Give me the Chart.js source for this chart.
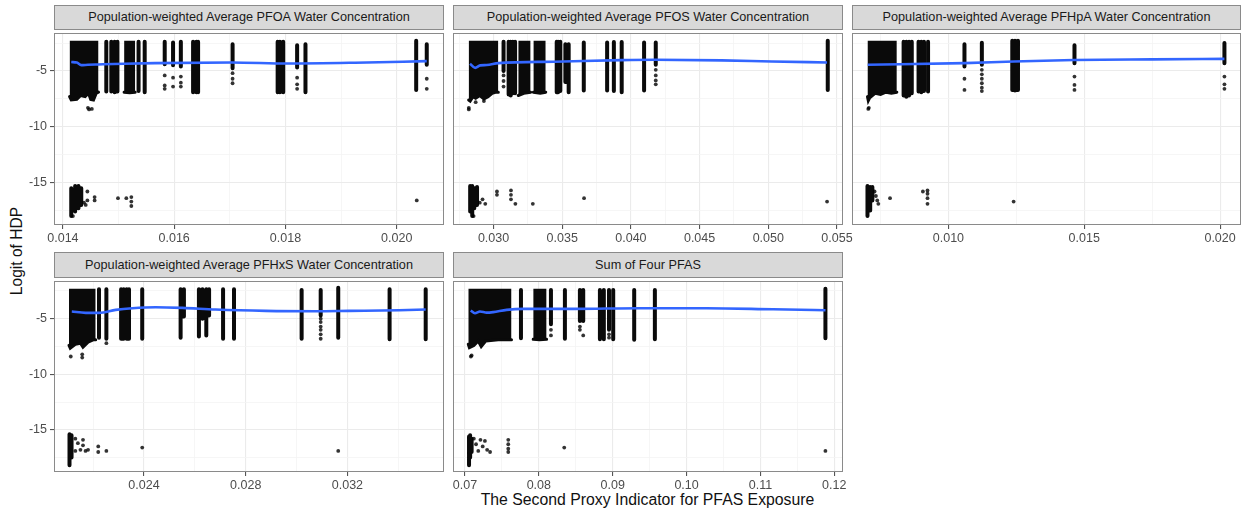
<!DOCTYPE html>
<html><head><meta charset="utf-8">
<script src="https://cdn.jsdelivr.net/npm/chart.js@4.4.1/dist/chart.umd.min.js"></script>
<style>
body{margin:0;background:#fff;width:1245px;height:514px;position:relative;overflow:hidden;font-family:'Liberation Sans',Arial,Helvetica,sans-serif;}
.strip{position:absolute;background:#D9D9D9;border:1px solid #8a8a8a;box-sizing:border-box;font-size:12.7px;color:#1a1a1a;text-align:center;line-height:22px;}
canvas{position:absolute;}
.xtitle{position:absolute;left:54px;width:1187px;top:491px;text-align:center;font-size:15.8px;color:#111;}
.ytitle{position:absolute;left:17px;top:251px;transform:translate(-50%,-50%) rotate(-90deg);font-size:15.6px;color:#111;white-space:nowrap;}
</style></head><body>
<div class="xtitle">The Second Proxy Indicator for PFAS Exposure</div>
<div class="ytitle">Logit of HDP</div>
<script>
// ---------- shared y axis ----------
const yRange = [-18.8, -1.6];
const yMajorTicks = [-15, -10, -5];
const yMinorTicks = [-17.5, -12.5, -7.5, -2.5];
const yTickLabels = ['-15', '-10', '-5'];
const blockTop = -2.3;

const panelTitles = [
  'Population-weighted Average PFOA Water Concentration',
  'Population-weighted Average PFOS Water Concentration',
  'Population-weighted Average PFHpA Water Concentration',
  'Population-weighted Average PFHxS Water Concentration',
  'Sum of Four PFAS'
];

// ---------- PFOA ----------
const pfoaRange = [0.01384, 0.02085];
const pfoaMajorTicks = [0.014, 0.016, 0.018, 0.020];
const pfoaMinorTicks = [0.015, 0.017, 0.019];
const pfoaTickLabels = ['0.014', '0.016', '0.018', '0.020'];
const pfoaBlocks = [
  [[0.01412,-7.3],[0.01415,-7.6],[0.01425,-7.55],[0.01432,-7.2],[0.0144,-7.3],[0.01446,-7.0],[0.0145,-7.55],[0.01455,-7.6],[0.0146,-7.0],[0.01464,-6.9]],
  [[0.0151,-6.9],[0.0152,-6.95],[0.0153,-6.9]]
];
const pfoaStripes = [
  [0.01478,-2.38,-6.85],[0.01487,-2.38,-6.85],[0.01493,-2.38,-6.9],[0.01498,-2.38,-6.85],
  [0.01536,-2.38,-6.8],[0.01547,-2.38,-6.9],[0.01583,-2.38,-4.4],[0.01598,-2.45,-4.5],
  [0.01612,-2.38,-4.6],[0.01634,-2.38,-6.9],[0.0164,-2.38,-6.9],[0.01643,-2.38,-6.9],
  [0.01705,-2.6,-4.75],[0.01786,-2.38,-6.9],[0.0179,-2.38,-6.9],[0.01796,-2.38,-6.9],
  [0.01821,-2.7,-4.7],[0.01836,-2.6,-6.9],[0.02035,-2.3,-6.7],[0.02054,-2.6,-4.45],
  [0.01415,-15.5,-18.0],[0.01422,-15.3,-17.6],[0.01428,-15.3,-17.3],[0.01433,-15.5,-17.0]
];
const pfoaDots = [
  [0.01583,-5.4],[0.01583,-6.3],[0.01583,-6.6],[0.01598,-5.6],[0.01598,-6.4],[0.01612,-5.5],
  [0.01612,-6.05],[0.01612,-6.4],[0.01705,-5.2],[0.01705,-5.7],[0.01705,-6.1],[0.01821,-5.6],
  [0.01821,-6.2],[0.01821,-6.6],[0.02054,-5.7],[0.02054,-6.6],[0.01445,-8.3],[0.01447,-8.45],
  [0.01452,-8.4],[0.01444,-15.8],[0.01444,-16.6],[0.01457,-16.3],[0.01457,-16.6],[0.01499,-16.4],
  [0.01514,-16.4],[0.01523,-16.3],[0.01523,-16.7],[0.01523,-17.1],[0.02036,-16.6],[0.01438,-16.8],
  [0.01441,-17.0],[0.01418,-18.0]
];
const pfoaSmooth = [[0.01415,-4.2],[0.01425,-4.25],[0.01433,-4.48],[0.01445,-4.45],[0.01463,-4.42],[0.0151,-4.35],[0.01565,-4.3],[0.01703,-4.24],[0.01805,-4.33],[0.01925,-4.26],[0.02054,-4.12]];

// ---------- PFOS ----------
const pfosRange = [0.02705, 0.05544];
const pfosMajorTicks = [0.030, 0.035, 0.040, 0.045, 0.050, 0.055];
const pfosMinorTicks = [0.0275, 0.0325, 0.0375, 0.0425, 0.0475, 0.0525];
const pfosTickLabels = ['0.030', '0.035', '0.040', '0.045', '0.050', '0.055'];
const pfosBlocks = [
  [[0.02819,-7.6],[0.0283,-7.7],[0.0285,-7.3],[0.0287,-7.45],[0.029,-7.2],[0.0293,-7.5],[0.0296,-7.3],[0.0299,-7.0],[0.0302,-6.9],[0.03035,-6.9]],
  [[0.0318,-7.2],[0.0322,-7.0],[0.0327,-6.9]],
  [[0.0329,-6.9],[0.0334,-7.0],[0.0338,-6.9]]
];
const pfosStripes = [
  [0.03073,-2.38,-5.0],[0.0311,-2.38,-7.1],[0.03125,-2.38,-7.2],[0.0314,-2.38,-7.0],[0.03157,-2.38,-7.0],
  [0.0346,-2.38,-6.9],[0.0347,-2.38,-6.9],[0.03486,-2.38,-6.8],[0.03523,-2.6,-6.0],[0.03547,-2.6,-6.9],
  [0.03657,-2.45,-6.75],[0.03827,-2.45,-6.75],[0.03876,-2.4,-6.8],[0.03933,-2.4,-6.9],[0.04096,-2.45,-6.75],
  [0.04181,-2.45,-4.45],[0.05433,-2.3,-6.7],
  [0.0283,-15.3,-17.6],[0.02845,-15.3,-18.0],[0.0286,-15.5,-17.3],[0.0288,-15.4,-17.0]
];
const pfosDots = [
  [0.03073,-5.4],[0.03073,-5.9],[0.03073,-6.4],[0.04181,-4.9],[0.04181,-5.4],[0.04181,-5.85],[0.04181,-6.2],
  [0.0282,-8.3],[0.0282,-8.45],[0.0287,-7.8],[0.0293,-7.7],
  [0.029,-16.8],[0.0292,-16.5],[0.0294,-16.9],[0.03025,-15.8],[0.03025,-16.1],[0.03127,-15.7],[0.03127,-16.1],
  [0.03127,-16.5],[0.03159,-16.9],[0.03286,-16.9],[0.03659,-16.4],[0.05428,-16.7],[0.02855,-18.0]
];
const pfosSmooth = [[0.02829,-4.35],[0.02866,-4.72],[0.02903,-4.5],[0.0295,-4.47],[0.03037,-4.3],[0.03439,-4.17],[0.03928,-4.03],[0.04171,-4.0],[0.0466,-4.05],[0.05026,-4.15],[0.05428,-4.24]];

// ---------- PFHpA ----------
const pfhpaRange = [0.00645, 0.02077];
const pfhpaMajorTicks = [0.010, 0.015, 0.020];
const pfhpaMinorTicks = [0.0075, 0.0125, 0.0175];
const pfhpaTickLabels = ['0.010', '0.015', '0.020'];
const pfhpaBlocks = [
  [[0.00702,-7.3],[0.00705,-7.65],[0.0071,-7.4],[0.0073,-7.0],[0.0075,-7.1],[0.0077,-6.9],[0.0079,-7.0],[0.0081,-6.9]]
];
const pfhpaStripes = [
  [0.00835,-2.38,-7.2],[0.00845,-2.38,-7.3],[0.00855,-2.38,-7.2],[0.00865,-2.38,-7.0],
  [0.0089,-2.38,-6.85],[0.009,-2.38,-6.9],[0.0091,-2.38,-6.8],[0.00925,-2.38,-6.85],
  [0.01059,-2.6,-4.6],[0.01123,-2.47,-4.45],[0.01235,-2.3,-6.7],[0.01245,-2.3,-6.75],[0.01256,-2.3,-6.7],
  [0.01464,-2.7,-4.3],[0.02016,-2.5,-4.3],
  [0.00702,-15.3,-18.0],[0.00712,-15.4,-17.5],[0.0072,-15.4,-16.6]
];
const pfhpaDots = [
  [0.01059,-5.7],[0.01059,-6.7],[0.01123,-4.9],[0.01123,-5.3],[0.01123,-5.7],[0.01123,-6.1],[0.01123,-6.5],
  [0.01123,-6.8],[0.01464,-5.5],[0.01464,-6.25],[0.01464,-6.7],[0.02016,-5.5],[0.02016,-6.2],[0.02016,-6.6],
  [0.00705,-8.4],[0.00707,-8.3],
  [0.00728,-15.8],[0.00733,-16.2],[0.00738,-16.6],[0.00742,-16.9],[0.00785,-16.4],[0.00906,-15.8],
  [0.00923,-15.7],[0.00923,-16.0],[0.00923,-16.4],[0.00923,-16.9],[0.0124,-16.7]
];
const pfhpaSmooth = [[0.00703,-4.45],[0.01059,-4.3],[0.0124,-4.15],[0.01462,-4.02],[0.0175,-3.96],[0.02016,-3.92]];

// ---------- PFHxS ----------
const pfhxsRange = [0.02046, 0.0358];
const pfhxsMajorTicks = [0.024, 0.028, 0.032];
const pfhxsMinorTicks = [0.022, 0.026, 0.030, 0.034];
const pfhxsTickLabels = ['0.024', '0.028', '0.032'];
const pfhxsBlocks = [
  [[0.02105,-7.4],[0.0211,-7.65],[0.0213,-7.3],[0.0215,-7.2],[0.0216,-7.55],[0.0218,-7.1],[0.022,-6.9],[0.0221,-6.9]]
];
const pfhxsStripes = [
  [0.02223,-2.34,-6.7],[0.02252,-2.34,-6.8],[0.0231,-2.34,-6.8],[0.0232,-2.34,-6.8],[0.02332,-2.34,-6.8],
  [0.02341,-2.34,-6.8],[0.02393,-2.34,-6.8],[0.02544,-2.34,-6.7],[0.02557,-2.34,-4.8],[0.02616,-2.34,-6.6],
  [0.0263,-2.34,-5.0],[0.02645,-2.34,-6.5],[0.02656,-2.34,-4.7],[0.02711,-2.34,-6.8],[0.02754,-2.34,-6.8],
  [0.0302,-2.4,-6.8],[0.03095,-2.4,-4.7],[0.03164,-2.2,-6.7],[0.03366,-2.35,-6.85],[0.03508,-2.34,-6.85],
  [0.02107,-15.4,-18.2],[0.02115,-15.5,-17.5]
];
const pfhxsDots = [
  [0.03095,-5.0],[0.03095,-5.3],[0.03095,-5.7],[0.03095,-6.0],[0.03095,-6.4],[0.03095,-6.8],
  [0.02112,-8.4],[0.02157,-8.2],[0.02157,-8.5],[0.02252,-7.2],
  [0.0213,-15.8],[0.0214,-16.2],[0.0215,-16.8],[0.0216,-15.9],[0.0217,-16.9],[0.0218,-16.8],[0.0213,-16.9],
  [0.0216,-16.4],[0.0222,-16.5],[0.0222,-17.0],[0.02252,-16.9],[0.02393,-16.6],[0.03164,-16.9]
];
const pfhxsSmooth = [[0.02116,-4.35],[0.02171,-4.47],[0.02223,-4.47],[0.02289,-4.2],[0.02354,-4.05],[0.02446,-3.96],[0.02551,-4.02],[0.02682,-4.17],[0.02879,-4.29],[0.03075,-4.32],[0.03206,-4.29],[0.03403,-4.24],[0.03508,-4.17]];

// ---------- Sum of four ----------
const sumRange = [0.06838, 0.12118];
const sumMajorTicks = [0.07, 0.08, 0.09, 0.10, 0.11, 0.12];
const sumMinorTicks = [0.075, 0.085, 0.095, 0.105, 0.115];
const sumTickLabels = ['0.07', '0.08', '0.09', '0.10', '0.11', '0.12'];
const sumBlocks = [
  [[0.07045,-7.3],[0.0706,-7.6],[0.0712,-7.4],[0.0718,-7.0],[0.0722,-7.5],[0.0728,-7.0],[0.0735,-6.95],[0.0745,-6.9],[0.0755,-6.9],[0.0763,-6.9]],
  [[0.07924,-6.85],[0.0801,-6.9],[0.08105,-6.85]]
];
const sumStripes = [
  [0.07758,-2.4,-6.75],[0.08164,-2.4,-5.5],[0.08353,-2.4,-6.8],[0.08556,-2.4,-5.2],[0.08601,-2.4,-5.2],
  [0.08827,-2.4,-6.85],[0.0888,-2.4,-6.85],[0.0895,-2.4,-6.0],[0.09007,-2.4,-6.85],[0.09291,-2.4,-6.9],
  [0.09571,-2.4,-6.85],[0.1188,-2.3,-6.75],
  [0.07055,-15.6,-18.2],[0.0707,-15.5,-17.5],[0.0709,-15.8,-17.0]
];
const sumDots = [
  [0.08164,-6.0],[0.08164,-6.5],[0.08556,-5.7],[0.08556,-6.0],[0.08601,-6.5],[0.0895,-6.4],[0.0895,-6.7],
  [0.0708,-8.4],[0.0709,-8.3],
  [0.0712,-15.8],[0.0715,-16.3],[0.0718,-16.9],[0.0721,-15.9],[0.0724,-16.5],[0.0727,-16.0],[0.073,-16.8],
  [0.0734,-17.0],[0.07586,-15.9],[0.07586,-16.3],[0.07586,-16.7],[0.07586,-17.0],[0.08344,-16.6],[0.1188,-16.9]
];
const sumSmooth = [[0.07077,-4.26],[0.07135,-4.5],[0.07203,-4.35],[0.07294,-4.45],[0.07383,-4.4],[0.07564,-4.2],[0.07789,-4.11],[0.08466,-4.11],[0.09368,-4.05],[0.1027,-4.05],[0.11172,-4.15],[0.11881,-4.23]];

// ---------- rendering ----------
const FONT = "'Liberation Sans', Arial, Helvetica, sans-serif";
const INK = '#0a0a0a';
const DOT = 'rgba(0,0,0,0.8)';

const borderPlugin = {
  id: 'panelBorder',
  afterDraw(chart) {
    const a = chart.chartArea, c = chart.ctx;
    c.save();
    c.strokeStyle = '#8a8a8a';
    c.lineWidth = 1;
    c.strokeRect(a.left + 0.5, a.top + 0.5, a.right - a.left - 1, a.bottom - a.top - 1);
    c.restore();
  }
};

function makePanel(p) {
  const padL = 46, padR = 22, axisH = 24;
  const strip = document.createElement('div');
  strip.className = 'strip';
  strip.style.left = p.left + 'px';
  strip.style.top = p.stripTop + 'px';
  strip.style.width = p.width + 'px';
  strip.style.height = (p.top - p.stripTop + 1) + 'px';
  strip.style.lineHeight = (p.top - p.stripTop - 1) + 'px';
  strip.textContent = p.title;
  document.body.appendChild(strip);

  const cv = document.createElement('canvas');
  const W = padL + p.width + padR, H = p.height + axisH;
  cv.width = W; cv.height = H;
  cv.style.left = (p.left - padL) + 'px';
  cv.style.top = p.top + 'px';
  cv.style.width = W + 'px'; cv.style.height = H + 'px';
  document.body.appendChild(cv);

  const xAll = p.xMajor.concat(p.xMinor).sort((a, b) => a - b);
  const yAll = yMajorTicks.concat(yMinorTicks).sort((a, b) => a - b);
  const isMajor = (arr, v) => arr.some(m => Math.abs(m - v) < 1e-9);

  const stripeData = [];
  p.stripes.forEach(([x, t, b]) => {
    stripeData.push({x, y: t}, {x, y: b}, {x, y: null});
  });

  const datasets = [
    { data: p.smooth.map(([x, y]) => ({x, y})), showLine: true, borderColor: '#3366FF',
      borderWidth: 2.6, pointRadius: 0, cubicInterpolationMode: 'monotone', fill: false }
  ];
  datasets.push({ data: p.dots.map(([x, y]) => ({x, y})), showLine: false, pointRadius: 1.9,
    pointBackgroundColor: DOT, pointBorderWidth: 0 });
  datasets.push({ data: stripeData, showLine: true, spanGaps: false, borderColor: INK, borderWidth: 4,
    borderCapStyle: 'round', pointRadius: 0, fill: false });
  p.blocks.forEach(bl => {
    datasets.push({ data: bl.map(([x, y]) => ({x, y})), showLine: true, borderColor: INK, borderWidth: 3,
      borderCapStyle: 'round', backgroundColor: INK, pointRadius: 0, fill: {value: blockTop} });
  });

  new Chart(cv, {
    type: 'scatter',
    data: { datasets },
    plugins: [borderPlugin],
    options: {
      responsive: false, animation: false, devicePixelRatio: 1,
      layout: { padding: { left: 0, right: padR, top: 0, bottom: 0 } },
      plugins: { legend: { display: false }, tooltip: { enabled: false } },
      scales: {
        x: {
          type: 'linear', min: p.xRange[0], max: p.xRange[1],
          afterBuildTicks: ax => { ax.ticks = xAll.map(v => ({value: v})); },
          afterFit: ax => { ax.height = axisH; ax.paddingLeft = 0; ax.paddingRight = 0; },
          border: { display: false },
          grid: {
            color: c => isMajor(p.xMajor, c.tick.value) ? '#EBEBEB' : '#F4F4F4',
            lineWidth: c => isMajor(p.xMajor, c.tick.value) ? 1.1 : 0.8,
            tickColor: c => isMajor(p.xMajor, c.tick.value) ? '#555555' : 'rgba(0,0,0,0)',
            tickLength: 4, drawTicks: true
          },
          ticks: {
            autoSkip: false, maxRotation: 0, padding: 2, color: '#4D4D4D',
            font: { family: FONT, size: 12.5 },
            callback: v => { const i = p.xMajor.findIndex(m => Math.abs(m - v) < 1e-9); return i >= 0 ? p.xLabels[i] : ''; }
          }
        },
        y: {
          type: 'linear', min: yRange[0], max: yRange[1],
          afterBuildTicks: ax => { ax.ticks = yAll.map(v => ({value: v})); },
          afterFit: ax => { ax.width = padL; ax.paddingTop = 0; ax.paddingBottom = 0; },
          border: { display: false },
          grid: {
            color: c => isMajor(yMajorTicks, c.tick.value) ? '#EBEBEB' : '#F4F4F4',
            lineWidth: c => isMajor(yMajorTicks, c.tick.value) ? 1.1 : 0.8,
            tickColor: c => (p.showY && isMajor(yMajorTicks, c.tick.value)) ? '#555555' : 'rgba(0,0,0,0)',
            tickLength: 4, drawTicks: true
          },
          ticks: {
            display: p.showY, autoSkip: false, padding: 3, color: '#4D4D4D',
            font: { family: FONT, size: 12.5 },
            callback: v => { const i = yMajorTicks.findIndex(m => Math.abs(m - v) < 1e-9); return i >= 0 ? yTickLabels[i] : ''; }
          }
        }
      }
    }
  });
}

const panels = [
  { title: panelTitles[0], left: 54, top: 29, stripTop: 5, width: 390, height: 196, showY: true,
    xRange: pfoaRange, xMajor: pfoaMajorTicks, xMinor: pfoaMinorTicks, xLabels: pfoaTickLabels,
    blocks: pfoaBlocks, stripes: pfoaStripes, dots: pfoaDots, smooth: pfoaSmooth },
  { title: panelTitles[1], left: 453, top: 29, stripTop: 5, width: 390, height: 196, showY: false,
    xRange: pfosRange, xMajor: pfosMajorTicks, xMinor: pfosMinorTicks, xLabels: pfosTickLabels,
    blocks: pfosBlocks, stripes: pfosStripes, dots: pfosDots, smooth: pfosSmooth },
  { title: panelTitles[2], left: 852, top: 29, stripTop: 5, width: 389, height: 196, showY: false,
    xRange: pfhpaRange, xMajor: pfhpaMajorTicks, xMinor: pfhpaMinorTicks, xLabels: pfhpaTickLabels,
    blocks: pfhpaBlocks, stripes: pfhpaStripes, dots: pfhpaDots, smooth: pfhpaSmooth },
  { title: panelTitles[3], left: 54, top: 277, stripTop: 252, width: 390, height: 195, showY: true,
    xRange: pfhxsRange, xMajor: pfhxsMajorTicks, xMinor: pfhxsMinorTicks, xLabels: pfhxsTickLabels,
    blocks: pfhxsBlocks, stripes: pfhxsStripes, dots: pfhxsDots, smooth: pfhxsSmooth },
  { title: panelTitles[4], left: 453, top: 277, stripTop: 252, width: 390, height: 195, showY: false,
    xRange: sumRange, xMajor: sumMajorTicks, xMinor: sumMinorTicks, xLabels: sumTickLabels,
    blocks: sumBlocks, stripes: sumStripes, dots: sumDots, smooth: sumSmooth }
];
panels.forEach(makePanel);
</script>
</body></html>
